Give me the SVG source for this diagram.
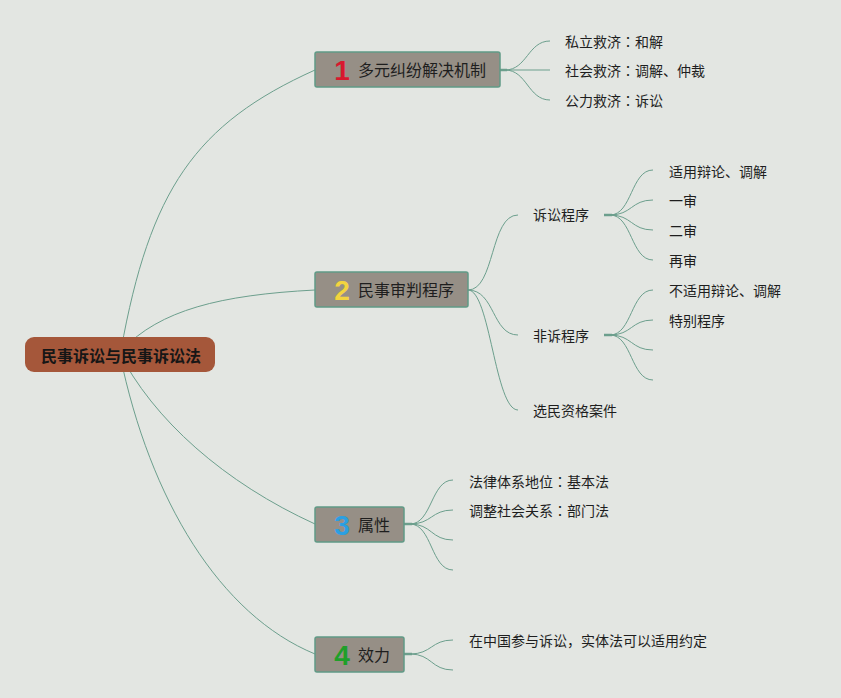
<svg xmlns="http://www.w3.org/2000/svg" width="841" height="698" viewBox="0 0 841 698">
<defs>
<style>
.bg{fill:#e3e6e2}
.c{fill:none;stroke:#6c9f8d;stroke-width:1}
.stem{fill:none;stroke:#6c9f8d;stroke-width:2.5}
.main{fill:#968f86;stroke:#609a86;stroke-width:1.5}
.root{fill:#a5573a}
.t{font-family:"Noto Sans CJK SC","Noto Sans",sans-serif;fill:#1e1e1e}
.col{font-family:"Noto Sans CJK JP","Noto Sans CJK SC",sans-serif}
.mt{font-size:16px}
.st{font-size:14px}
.rt{font-size:16px;font-weight:bold;fill:#161616}
.num{font-family:"Liberation Sans","Noto Sans",sans-serif;font-size:28px;font-weight:bold;text-anchor:middle}
</style>
</defs>
<rect class="bg" x="0" y="0" width="841" height="698"/>
<g id="connectors">
<path class="c" d="M121,350 C150,190 195,124 315,70"/>
<path class="c" d="M122,350 C160,310 220,295 315,290"/>
<path class="c" d="M118,350 C153,420 225,483 315,524"/>
<path class="c" d="M120,355 C150,500 220,615 315,654"/>
<path class="stem" d="M500,70 H507"/>
<path class="c" d="M505,70 C527,70 528,41 550,41"/>
<path class="c" d="M505,70 H550"/>
<path class="c" d="M505,70 C527,70 528,100 550,100"/>
<path class="c" d="M468,290 C495,290 490,215 518,215"/>
<path class="c" d="M468,290 C495,290 492,335 518,335"/>
<path class="c" d="M468,290 C490,290 495,410 518,410"/>
<path class="stem" d="M604,215 H612"/>
<path class="c" d="M610,215 C632,215 631,170 653,170"/>
<path class="c" d="M610,215 C632,215 631,200 653,200"/>
<path class="c" d="M610,215 C632,215 631,230 653,230"/>
<path class="c" d="M610,215 C632,215 631,260 653,260"/>
<path class="stem" d="M604,335 H612"/>
<path class="c" d="M610,335 C632,335 631,290 653,290"/>
<path class="c" d="M610,335 C632,335 631,320 653,320"/>
<path class="c" d="M610,335 C632,335 631,350 653,350"/>
<path class="c" d="M610,335 C632,335 631,380 653,380"/>
<path class="stem" d="M404,524 H412"/>
<path class="c" d="M410,524 C432,524 431,480 453,480"/>
<path class="c" d="M410,524 C432,524 431,510 453,510"/>
<path class="c" d="M410,524 C432,524 431,540 453,540"/>
<path class="c" d="M410,524 C432,524 431,570 453,570"/>
<path class="stem" d="M404,654 H412"/>
<path class="c" d="M410,654 C432,654 431,640 453,640"/>
<path class="c" d="M410,654 C432,654 431,670 453,670"/>
</g>
<g id="root">
<rect class="root" x="25" y="337" width="190" height="35" rx="9"/>
<text class="t rt" x="121" y="361.5" text-anchor="middle">民事诉讼与民事诉讼法</text>
</g>
<g id="n1">
<rect class="main" x="315" y="52" width="185" height="35" rx="2"/>
<text class="num" x="342" y="80" fill="#d8192e">1</text>
<text class="t mt" x="358" y="75.5">多元纠纷解决机制</text>
</g>
<g id="n1a"><text class="t st" x="565" y="47">私立救济<tspan class="col">：</tspan>和解</text></g>
<g id="n1b"><text class="t st" x="565" y="76">社会救济<tspan class="col">：</tspan>调解、仲裁</text></g>
<g id="n1c"><text class="t st" x="565" y="106">公力救济<tspan class="col">：</tspan>诉讼</text></g>
<g id="n2">
<rect class="main" x="315" y="272" width="153" height="35" rx="2"/>
<text class="num" x="342" y="300" fill="#f3d43f">2</text>
<text class="t mt" x="358" y="295.5">民事审判程序</text>
</g>
<g id="n2a"><text class="t st" x="533" y="220">诉讼程序</text></g>
<g id="n2a1"><text class="t st" x="669" y="177">适用辩论、调解</text></g>
<g id="n2a2"><text class="t st" x="669" y="206">一审</text></g>
<g id="n2a3"><text class="t st" x="669" y="236">二审</text></g>
<g id="n2a4"><text class="t st" x="669" y="266">再审</text></g>
<g id="n2b"><text class="t st" x="533" y="341">非诉程序</text></g>
<g id="n2b1"><text class="t st" x="669" y="296">不适用辩论、调解</text></g>
<g id="n2b2"><text class="t st" x="669" y="326">特别程序</text></g>
<g id="n2c"><text class="t st" x="533" y="416">选民资格案件</text></g>
<g id="n3">
<rect class="main" x="315" y="507" width="89" height="35" rx="2"/>
<text class="num" x="342" y="535" fill="#2b9fe2">3</text>
<text class="t mt" x="358" y="530.5">属性</text>
</g>
<g id="n3a"><text class="t st" x="469" y="487">法律体系地位<tspan class="col">：</tspan>基本法</text></g>
<g id="n3b"><text class="t st" x="469" y="516">调整社会关系<tspan class="col">：</tspan>部门法</text></g>
<g id="n4">
<rect class="main" x="315" y="637" width="89" height="35" rx="2"/>
<text class="num" x="342" y="665" fill="#1f9f2a">4</text>
<text class="t mt" x="358" y="660.5">效力</text>
</g>
<g id="n4a"><text class="t st" x="469" y="646">在中国参与诉讼，实体法可以适用约定</text></g>
</svg>
